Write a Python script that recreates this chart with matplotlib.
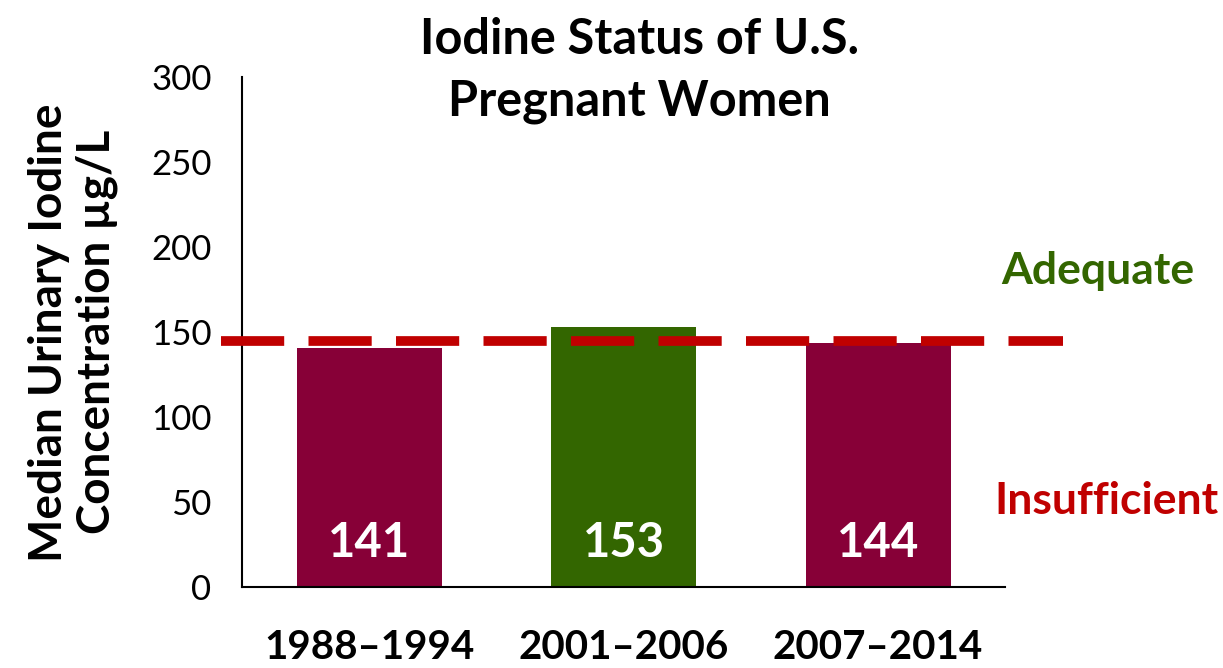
import matplotlib
matplotlib.use("Agg")
import matplotlib.pyplot as plt

plt.rcParams['font.family'] = ['Lato', 'DejaVu Sans']

periods = ['1988–1994', '2001–2006', '2007–2014']
median_uic = [141, 153, 144]
bar_colors = ['#870037', '#336600', '#870037']
threshold = 145

fig = plt.figure(figsize=(12.23, 6.68), dpi=100)
ax = fig.add_axes([0.198, 0.121, 0.624, 0.763])

x = range(len(periods))
ax.bar(x, median_uic, width=0.57, color=bar_colors, zorder=2)
for xi, v in zip(x, median_uic):
    ax.text(xi, 26, str(v), ha='center', va='center', color='white',
            fontsize=34, fontweight='bold', zorder=3)

ax.plot([-0.585, 2.725], [threshold, threshold], color='#C00000', lw=7,
        dashes=(6.5, 2.5), clip_on=False, zorder=4)

ax.set_xlim(-0.5, 2.5)
ax.set_ylim(0, 300)
ax.set_yticks(range(0, 301, 50))
ax.tick_params(axis='y', length=0, labelsize=25, pad=22)
ax.tick_params(axis='x', length=0, labelsize=29, pad=30)
ax.set_xticks(list(x))
ax.set_xticklabels(periods, fontweight='bold')
for s in ['top', 'right']:
    ax.spines[s].set_visible(False)
ax.spines['left'].set_linewidth(1.5)
ax.spines['bottom'].set_linewidth(1.5)

ax.set_ylabel('Median Urinary Iodine\nConcentration µg/L', fontsize=33,
              fontweight='bold', labelpad=24, linespacing=1.15)

fig.text(0.523, 0.975, 'Iodine Status of U.S.\nPregnant Women', ha='center',
         va='top', fontsize=35, fontweight='bold', linespacing=1.45)

ax.text(2.863, 186, 'Adequate', ha='center', va='center', color='#336600',
        fontsize=32, fontweight='bold', clip_on=False)
ax.text(2.898, 51, 'Insufficient', ha='center', va='center', color='#C00000',
        fontsize=32, fontweight='bold', clip_on=False)

fig.savefig('out.png', dpi=100)
